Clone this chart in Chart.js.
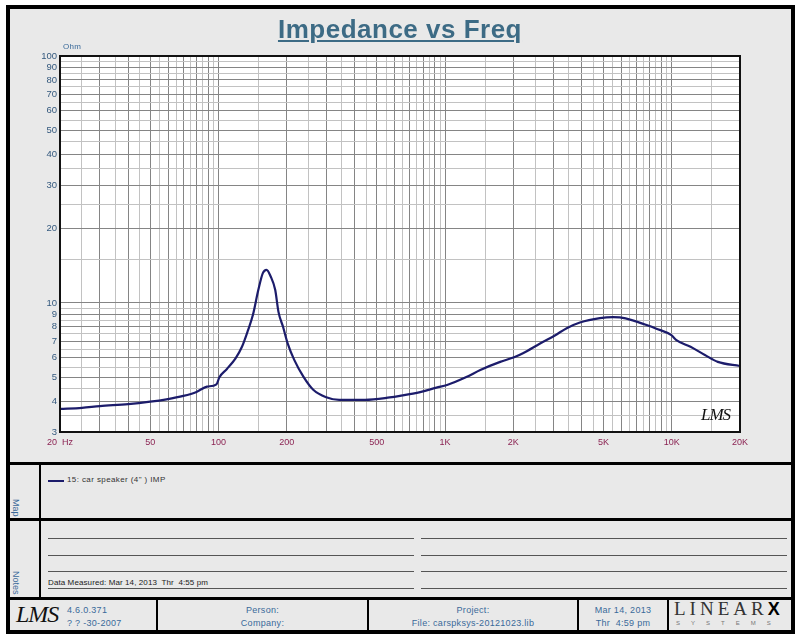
<!DOCTYPE html>
<html>
<head>
<meta charset="utf-8">
<script src="https://cdn.jsdelivr.net/npm/chart.js@4.4.0/dist/chart.umd.min.js"></script>
<style>
  body { margin: 0; background: #fff; font-family: "Liberation Sans", Arial, sans-serif; }
  #page { position: relative; width: 800px; height: 639px; overflow: hidden; }
  #frame { position: absolute; left: 6px; top: 5px; width: 781px; height: 621px; border: 4px solid #000; background: #e9e9e9; }
  #chart { position: absolute; left: 0; top: 0; }
  .abs { position: absolute; white-space: nowrap; }
  .bar { position: absolute; background: #000; }
  .note { position: absolute; height: 1px; background: #555; }
  .blue { color: #3a6a9a; font-size: 9px; letter-spacing: 0.3px; }
  .ctr { text-align: center; }
  #title { left: 0; width: 800px; top: 14px; text-align: center; font-size: 26px; line-height: 30px; font-weight: bold;
           color: #3d6b85; text-decoration: underline; letter-spacing: 0.5px; }
  .side { writing-mode: vertical-rl; font-size: 9px; color: #3a6a9a; }
  .lms { font-family: "Liberation Serif", serif; font-style: italic; color: #111; }
</style>
</head>
<body>
<div id="page">
  <div id="frame"></div>
  <canvas id="chart" width="800" height="462"></canvas>

  <div class="abs" id="title">Impedance vs Freq</div>
  <div class="abs blue" style="left:63px; top:42px; font-size:8px;">Ohm</div>
  <div class="abs lms" style="left:701px; top:405px; font-size:17px; letter-spacing:-1px;">LMS</div>

  <!-- section separators -->
  <div class="bar" style="left:10px; top:462px; width:781px; height:3px;"></div>
  <div class="bar" style="left:10px; top:518px; width:781px; height:3px;"></div>
  <div class="bar" style="left:10px; top:597px; width:781px; height:3px;"></div>
  <div class="bar" style="left:39px; top:464px; width:2px; height:134px;"></div>

  <!-- map -->
  <div class="abs side" style="left:11px; top:499px;">Map</div>
  <div class="abs" style="left:48px; top:480px; width:16px; height:2px; background:#1c1c6b;"></div>
  <div class="abs" style="left:67px; top:475px; font-size:8px; letter-spacing:0.4px; color:#333;">15: car speaker (4" ) IMP</div>

  <!-- notes -->
  <div class="abs side" style="left:11px; top:571px;">Notes</div>
  <div class="note" style="left:48px; top:538px; width:366px;"></div>
  <div class="note" style="left:48px; top:555px; width:366px;"></div>
  <div class="note" style="left:48px; top:571px; width:366px;"></div>
  <div class="note" style="left:48px; top:588px; width:366px;"></div>
  <div class="note" style="left:421px; top:538px; width:366px;"></div>
  <div class="note" style="left:421px; top:555px; width:366px;"></div>
  <div class="note" style="left:421px; top:571px; width:366px;"></div>
  <div class="note" style="left:421px; top:588px; width:366px;"></div>
  <div class="abs" style="left:48px; top:578px; font-size:8px; letter-spacing:0.1px; color:#222;">Data Measured: Mar 14, 2013&nbsp; Thr&nbsp; 4:55 pm</div>

  <!-- footer -->
  <div class="bar" style="left:156px; top:599px; width:2px; height:32px;"></div>
  <div class="bar" style="left:367px; top:599px; width:2px; height:32px;"></div>
  <div class="bar" style="left:577px; top:599px; width:2px; height:32px;"></div>
  <div class="bar" style="left:667px; top:599px; width:2px; height:32px;"></div>
  <div class="abs lms" style="left:16px; top:601px; font-size:24px; letter-spacing:-1px;">LMS</div>
  <div class="abs blue" style="left:67px; top:605px;">4.6.0.371</div>
  <div class="abs blue" style="left:67px; top:618px;">? ? -30-2007</div>
  <div class="abs blue ctr" style="left:158px; width:209px; top:605px;">Person:</div>
  <div class="abs blue ctr" style="left:158px; width:209px; top:618px;">Company:</div>
  <div class="abs blue ctr" style="left:369px; width:208px; top:605px;">Project:</div>
  <div class="abs blue ctr" style="left:369px; width:208px; top:618px;">File: carspksys-20121023.lib</div>
  <div class="abs blue ctr" style="left:579px; width:88px; top:605px;">Mar 14, 2013</div>
  <div class="abs blue ctr" style="left:579px; width:88px; top:618px;">Thr&nbsp; 4:59 pm</div>
  <div class="abs" style="left:674px; top:598px; font-family:'Liberation Serif',serif; font-size:19px; letter-spacing:4px; color:#333;">LINEAR<b style="color:#000; font-family:'Liberation Sans',sans-serif; font-size:18px;">X</b></div>
  <div class="abs" style="left:676px; top:620px; font-size:6px; letter-spacing:11px; color:#777;">SYSTEMS</div>
</div>

<script>
// impedance curve
const freqHz = [20, 25, 30, 40, 50, 59, 70, 80, 89, 98,
  101, 109, 119, 127, 135, 142, 150, 157, 163, 170,
  178, 184, 193, 202, 216, 237, 262, 299, 341, 444,
  570, 632, 776, 916, 1020, 1248, 1430, 1750, 2016, 2206,
  2625, 3050, 3440, 3933, 4818, 5510, 5900, 6722, 7800, 8500,
  9960, 10480, 12100, 14000, 15960, 20000];
const impedanceOhm = [3.72, 3.76, 3.82, 3.89, 3.98, 4.07, 4.2, 4.36, 4.58, 4.68,
  5.0, 5.4, 5.96, 6.64, 7.74, 8.95, 11.3, 13.2, 13.6, 12.8,
  11.3, 9.2, 7.97, 6.86, 5.88, 5.03, 4.45, 4.15, 4.05, 4.05,
  4.14, 4.2, 4.35, 4.54, 4.65, 5.02, 5.35, 5.77, 6.02, 6.25,
  6.85, 7.38, 7.9, 8.33, 8.68, 8.76, 8.73, 8.5, 8.12, 7.88,
  7.4, 7.07, 6.64, 6.15, 5.77, 5.55];

// tick labels
const xTickValues = [20, 50, 100, 200, 500, 1000, 2000, 5000, 10000, 20000];
const xTickText = ["20  Hz", "50", "100", "200", "500", "1K", "2K", "5K", "10K", "20K"];
const yTickValues = [3, 4, 5, 6, 7, 8, 9, 10, 20, 30, 40, 50, 60, 70, 80, 90, 100];

// grid: every half step inside each decade
const gridSteps = [1, 1.5, 2, 2.5, 3, 3.5, 4, 4.5, 5, 5.5, 6, 6.5, 7, 7.5, 8, 8.5, 9, 9.5];

function gridValues(min, max) {
  const out = [];
  for (let e = Math.floor(Math.log10(min)); e <= Math.ceil(Math.log10(max)); e++) {
    gridSteps.forEach(function (m) {
      const v = +(m * Math.pow(10, e)).toPrecision(6);
      if (v >= min && v <= max) out.push(v);
    });
  }
  return out;
}

function near(a, b) { return Math.abs(a - b) < b * 1e-6; }

function isMajor(v) {
  const m = v / Math.pow(10, Math.floor(Math.log10(v) + 1e-9));
  return Math.abs(m - Math.round(m)) < 1e-6;
}

function gridColor(c) {
  return c.tick && isMajor(c.tick.value) ? "#858585" : "#c2c2c2";
}

const plotFrame = {
  id: "plotFrame",
  beforeDraw(chart) {
    const a = chart.chartArea, ctx = chart.ctx;
    ctx.save();
    ctx.fillStyle = "#fff";
    ctx.fillRect(a.left, a.top, a.right - a.left, a.bottom - a.top);
    ctx.restore();
  },
  afterDraw(chart) {
    const a = chart.chartArea, ctx = chart.ctx;
    ctx.save();
    ctx.strokeStyle = "#111";
    ctx.lineWidth = 2;
    ctx.strokeRect(a.left, a.top, a.right - a.left, a.bottom - a.top);
    ctx.restore();
  },
};

const points = freqHz.map(function (f, i) { return { x: f, y: impedanceOhm[i] }; });

new Chart(document.getElementById("chart"), {
  type: "line",
  data: {
    datasets: [
      {
        label: "15: car speaker (4\" ) IMP",
        data: points,
        borderColor: "#1c1c6b",
        borderWidth: 2.2,
        pointRadius: 0,
        cubicInterpolationMode: "monotone",
      },
    ],
  },
  options: {
    responsive: false,
    animation: false,
    layout: { padding: { left: 0, right: 60, top: 56, bottom: 0 } },
    scales: {
      x: {
        type: "logarithmic",
        min: 20,
        max: 20000,
        afterBuildTicks: function (scale) {
          scale.ticks = gridValues(20, 20000).map(function (v) { return { value: v }; });
        },
        afterFit: function (scale) { scale.height = 30; },
        border: { display: false },
        grid: { color: gridColor, lineWidth: 1, drawTicks: false },
        ticks: {
          autoSkip: false,
          maxRotation: 0,
          padding: 5,
          color: "#8b2252",
          font: { family: "Liberation Sans", size: 9 },
          callback: function (value) {
            const i = xTickValues.findIndex(function (t) { return near(value, t); });
            return i < 0 ? "" : xTickText[i];
          },
        },
      },
      y: {
        type: "logarithmic",
        min: 3,
        max: 100,
        afterBuildTicks: function (scale) {
          scale.ticks = gridValues(3, 100).map(function (v) { return { value: v }; });
        },
        afterFit: function (scale) { scale.width = 60; },
        border: { display: false },
        grid: { color: gridColor, lineWidth: 1, drawTicks: false },
        ticks: {
          autoSkip: false,
          padding: 3,
          color: "#34597e",
          font: { family: "Liberation Sans", size: 9.5 },
          callback: function (value) {
            return yTickValues.some(function (t) { return near(value, t); }) ? String(value) : "";
          },
        },
      },
    },
    plugins: {
      legend: { display: false },
      tooltip: { enabled: false },
    },
  },
  plugins: [plotFrame],
});
</script>
</body>
</html>
